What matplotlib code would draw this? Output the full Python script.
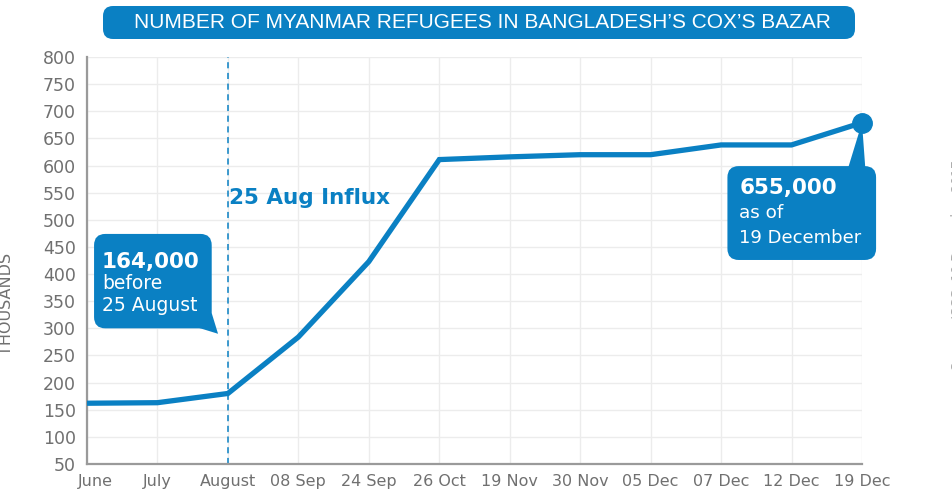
import numpy as np
import matplotlib.pyplot as plt
from matplotlib.patches import FancyBboxPatch, Polygon
from matplotlib import font_manager
from matplotlib.transforms import ScaledTranslation

# data
labels = ['June', 'July', 'August', '08 Sep', '24 Sep', '26 Oct', '19 Nov',
          '30 Nov', '05 Dec', '07 Dec', '12 Dec', '19 Dec']
refugees = [162, 163, 180, 284, 423, 611, 616, 620, 620, 638, 638, 679]  # thousands
yticks = np.arange(50, 801, 50)

blue = '#0a80c3'
grey = '#707070'

plt.rcParams['font.family'] = ['DejaVu Sans']

fig = plt.figure(figsize=(9.53, 4.95), dpi=100)
ax = fig.add_axes([0.0913, 0.0626, 0.8132, 0.8222])

x = np.arange(len(labels))
ax.plot(x, refugees, color=blue, lw=3.8, solid_joinstyle='miter', zorder=3)
ax.plot(x[-1], refugees[-1], 'o', color=blue, ms=14, zorder=4, clip_on=False)

ax.set_xlim(0, len(labels) - 1)
ax.set_ylim(50, 800)
ax.set_yticks(yticks)
ax.set_xticks(x)
ax.set_xticklabels(labels)
ax.tick_params(axis='both', length=0, labelcolor=grey)
ax.tick_params(axis='x', pad=7.5, labelsize=11.5)
ax.tick_params(axis='y', pad=8, labelsize=12.5)
# first label sits a bit right of the axis in the original
first = ax.get_xticklabels()[0]
first.set_transform(first.get_transform() + ScaledTranslation(8 / 100, 0, fig.dpi_scale_trans))
ax.grid(True, color='#ececec', lw=1)
ax.set_axisbelow(True)
for s in ['top', 'right']:
    ax.spines[s].set_visible(False)
for s in ['left', 'bottom']:
    ax.spines[s].set_color('#9a9a9a')
    ax.spines[s].set_linewidth(1.6)

# dashed 25 Aug line
ax.axvline(2, color=blue, lw=1.1, ls=(0, (4, 3)), zorder=2)
ax.text(2.02, 540, '25 Aug Influx', color=blue, fontsize=15.5, fontweight='bold',
        va='center', ha='left')

# callouts (data coords, aspect fixes rounding)
asp = 130


def callout(x0, x1, y0, y1, tail):
    box = FancyBboxPatch((x0, y0), x1 - x0, y1 - y0,
                         boxstyle='round,pad=0,rounding_size=0.16',
                         mutation_aspect=asp, fc=blue, ec='none',
                         clip_on=False, zorder=5)
    ax.add_patch(box)
    ax.add_patch(Polygon(tail, closed=True, fc=blue, ec='none',
                         clip_on=False, zorder=5))


callout(0.10, 1.77, 300, 474, [(1.56, 302), (1.77, 328), (1.86, 290)])
ax.text(0.21, 422, '164,000', color='white', fontsize=15.5, fontweight='bold',
        va='center', zorder=6)
ax.text(0.21, 383, 'before', color='white', fontsize=13.5, va='center', zorder=6)
ax.text(0.21, 343, '25 August', color='white', fontsize=13.5, va='center', zorder=6)

callout(9.09, 11.2, 426, 599, [(10.79, 590), (11.05, 590), (11, refugees[-1])])
ax.text(9.26, 559, '655,000', color='white', fontsize=15.5, fontweight='bold',
        va='center', zorder=6)
ax.text(9.26, 513, 'as of', color='white', fontsize=13.2, va='center', zorder=6)
ax.text(9.26, 466, '19 December', color='white', fontsize=13, va='center', zorder=6)

# title banner
fig.add_artist(FancyBboxPatch((103 / 953, 1 - 39 / 495), 752 / 953, 33 / 495,
                              boxstyle='round,pad=0,rounding_size=0.0105',
                              mutation_aspect=953 / 495,
                              transform=fig.transFigure, fc=blue, ec='none'))
names = {f.name for f in font_manager.fontManager.ttflist}
if 'Liberation Sans Narrow' in names:
    tfam, tsize = 'Liberation Sans Narrow', 17
else:
    tfam, tsize = 'Liberation Sans', 15
fig.text(482 / 953, 1 - 22.5 / 495, 'NUMBER OF MYANMAR REFUGEES IN BANGLADESH\u2019S COX\u2019S BAZAR',
         color='white', fontsize=tsize, family=tfam, ha='center', va='center')

# y label, partly cut off
fig.text(7 / 953, 1 - 304 / 495, 'THOUSANDS', rotation=90, color=grey,
         fontsize=11.5, ha='center', va='center')

# source credit, mostly off the right edge
fig.text(958 / 953, 1 - 265 / 495, 'Source: ISCG, 19 December 2017', rotation=90,
         color='#aaaaaa', fontsize=9, ha='center', va='center')

fig.savefig('out.png', dpi=100)
